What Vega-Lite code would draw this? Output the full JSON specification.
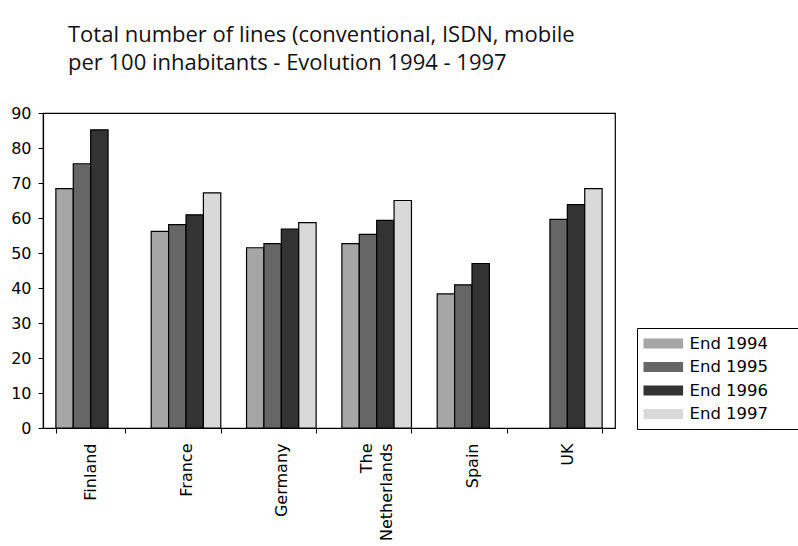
{
  "$schema": "https://vega.github.io/schema/vega-lite/v6.json",
  "width": 572,
  "height": 315,
  "autosize": {"type": "none"},
  "padding": {"left": 43, "top": 113, "right": 183, "bottom": 118},
  "background": "white",
  "title": {
    "text": ["Total number of lines (conventional, ISDN, mobile", "per 100 inhabitants - Evolution 1994 - 1997"],
    "anchor": "start",
    "frame": "group",
    "dx": 25,
    "offset": 30,
    "font": "Open Sans",
    "fontSize": 22,
    "fontWeight": "normal",
    "color": "#111111",
    "lineHeight": 28
  },
  "data": {
    "values": [
      {"country": "Finland", "series": "End 1994", "value": 68.4},
      {"country": "Finland", "series": "End 1995", "value": 75.5},
      {"country": "Finland", "series": "End 1996", "value": 85.2},
      {"country": "France", "series": "End 1994", "value": 56.2},
      {"country": "France", "series": "End 1995", "value": 58.1},
      {"country": "France", "series": "End 1996", "value": 60.9},
      {"country": "France", "series": "End 1997", "value": 67.2},
      {"country": "Germany", "series": "End 1994", "value": 51.5},
      {"country": "Germany", "series": "End 1995", "value": 52.7},
      {"country": "Germany", "series": "End 1996", "value": 56.8},
      {"country": "Germany", "series": "End 1997", "value": 58.7},
      {"country": "The Netherlands", "series": "End 1994", "value": 52.7},
      {"country": "The Netherlands", "series": "End 1995", "value": 55.3},
      {"country": "The Netherlands", "series": "End 1996", "value": 59.3},
      {"country": "The Netherlands", "series": "End 1997", "value": 65.0},
      {"country": "Spain", "series": "End 1994", "value": 38.3},
      {"country": "Spain", "series": "End 1995", "value": 40.9},
      {"country": "Spain", "series": "End 1996", "value": 47.0},
      {"country": "UK", "series": "End 1995", "value": 59.6},
      {"country": "UK", "series": "End 1996", "value": 63.8},
      {"country": "UK", "series": "End 1997", "value": 68.4}
    ]
  },
  "mark": {"type": "bar", "stroke": "#000000", "strokeWidth": 1.2},
  "encoding": {
    "x": {
      "field": "country",
      "type": "nominal",
      "sort": ["Finland", "France", "Germany", "The Netherlands", "Spain", "UK"],
      "scale": {"paddingInner": 0.27, "paddingOuter": 0.135},
      "axis": {
        "title": null,
        "labelAngle": 270,
        "labelAlign": "right",
        "labelBaseline": "middle",
        "labelFont": "DejaVu Sans",
        "labelFontSize": 16,
        "labelColor": "#000000",
        "labelPadding": 10,
        "labelLineHeight": 20,
        "labelOffset": {"condition": {"test": "datum.value == 'The Netherlands'", "value": -10}, "value": 0},
        "labelExpr": "datum.value == 'The Netherlands' ? ['The', 'Netherlands'] : datum.value",
        "tickBand": "extent",
        "tickSize": 5,
        "tickColor": "#000000",
        "domainColor": "#000000",
        "domainWidth": 1.2
      }
    },
    "xOffset": {
      "field": "series",
      "type": "nominal",
      "sort": ["End 1994", "End 1995", "End 1996", "End 1997"],
      "scale": {"paddingInner": 0, "paddingOuter": 0}
    },
    "y": {
      "field": "value",
      "type": "quantitative",
      "scale": {"domain": [0, 90], "nice": false},
      "axis": {
        "title": null,
        "values": [0, 10, 20, 30, 40, 50, 60, 70, 80, 90],
        "grid": false,
        "labelFont": "DejaVu Sans",
        "labelFontSize": 16,
        "labelColor": "#000000",
        "labelPadding": 7,
        "tickSize": 5,
        "tickColor": "#000000",
        "domainColor": "#000000",
        "domainWidth": 1.2
      }
    },
    "fill": {
      "field": "series",
      "type": "nominal",
      "scale": {
        "domain": ["End 1994", "End 1995", "End 1996", "End 1997"],
        "range": ["#a6a6a6", "#666666", "#333333", "#d9d9d9"]
      },
      "legend": {
        "title": null,
        "orient": "none",
        "legendX": 594,
        "legendY": 215,
        "strokeColor": "#000000",
        "padding": 6.5,
        "cornerRadius": 0,
        "symbolType": "M-1,-0.556H3.4V0.556H-1Z",
        "symbolSize": 324,
        "symbolStrokeWidth": 0,
        "symbolOpacity": 1,
        "rowPadding": 5.5,
        "labelFont": "DejaVu Sans",
        "labelFontSize": 16.5,
        "labelColor": "#000000",
        "labelOffset": 28,
        "labelExpr": "datum.label + '\u2800\u2800'"
      }
    }
  },
  "config": {
    "view": {"stroke": "#000000", "strokeWidth": 1.2}
  }
}
